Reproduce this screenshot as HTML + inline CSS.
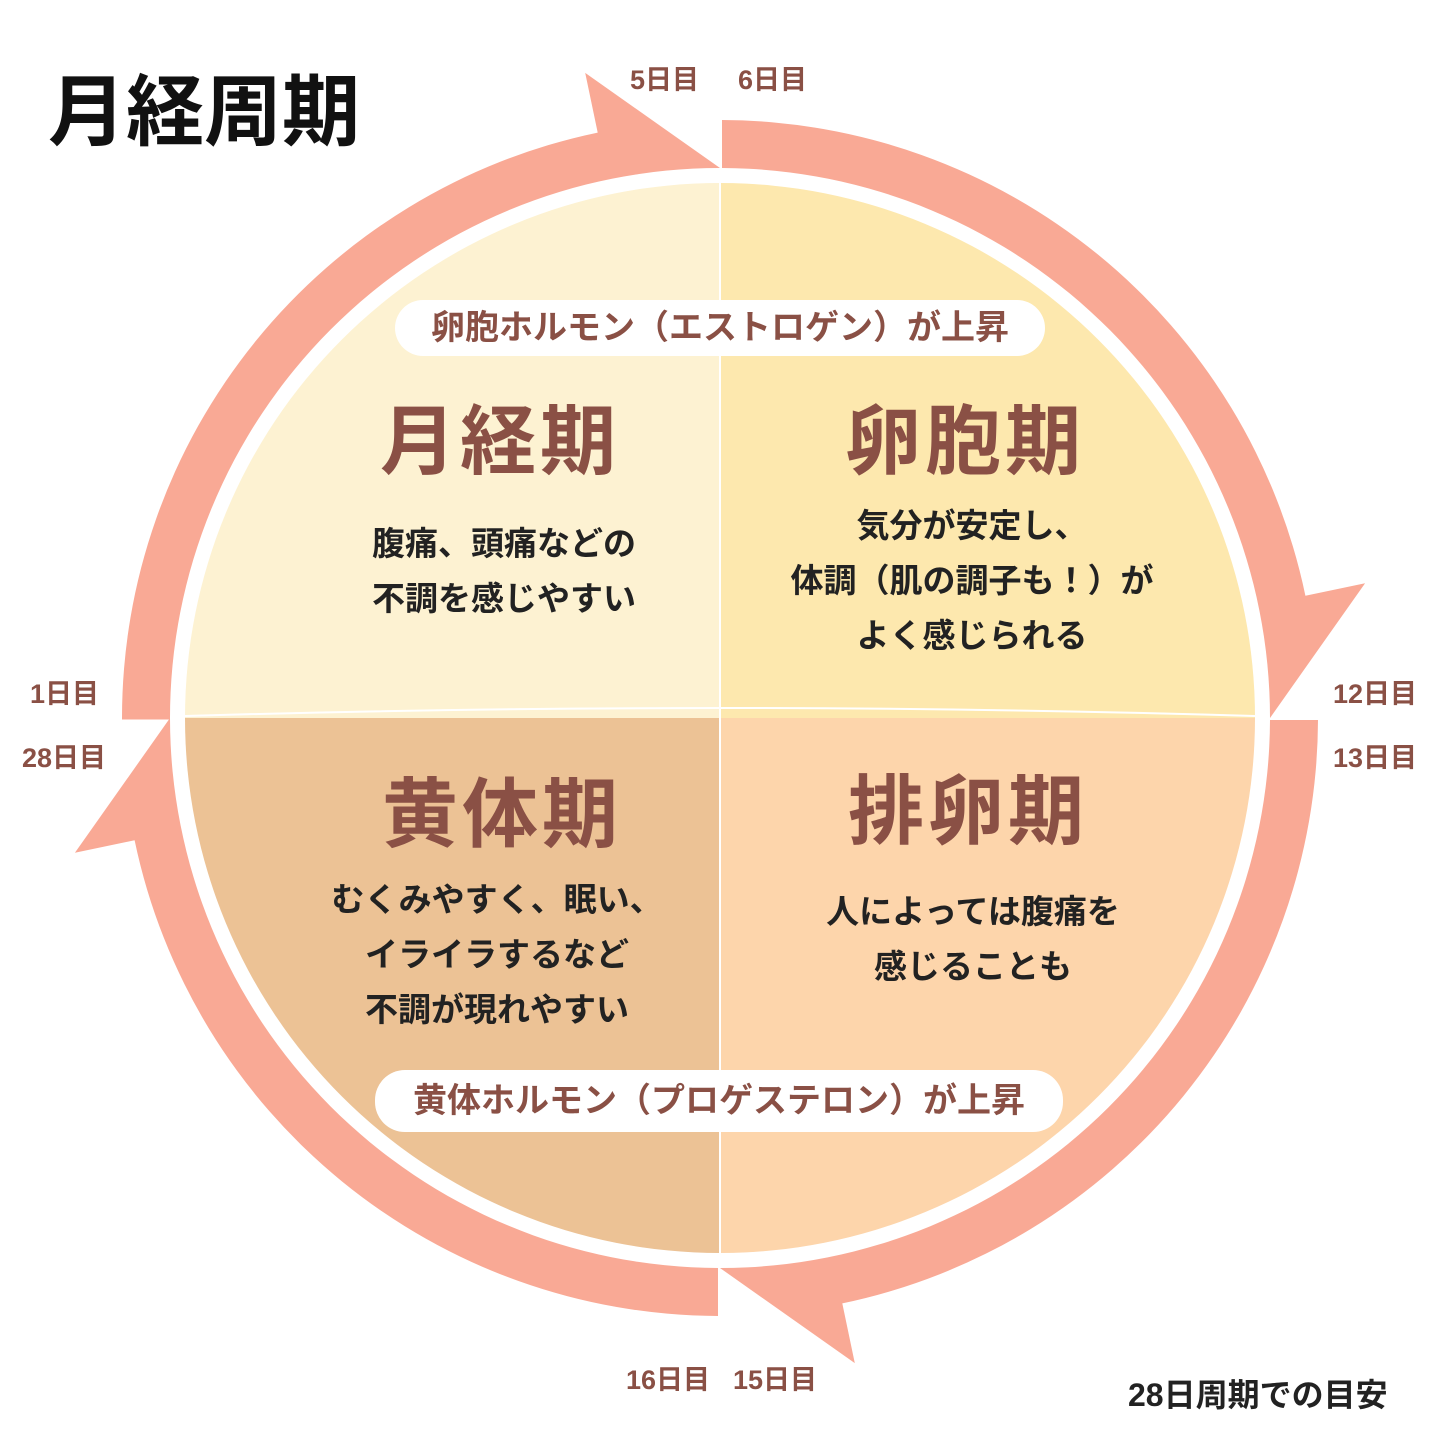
<!DOCTYPE html>
<html><head><meta charset="utf-8"><style>
body{margin:0;width:1440px;height:1440px;background:#fff;position:relative;overflow:hidden;font-family:"Liberation Sans","Noto Sans CJK JP",sans-serif}
.a{position:absolute;white-space:nowrap}
.title{left:48px;top:50px;font-size:78px;font-weight:bold;color:#111}
.d{font-size:27px;color:#8a5045;font-weight:bold}
.pill{background:#fff;border-radius:30px;color:#8a5045;font-size:34px;font-weight:bold;text-align:center}
.ph{font-size:76px;font-weight:bold;color:#8a5045;text-align:center;transform:translateX(-50%);letter-spacing:4px}
.b{font-size:33px;font-weight:bold;color:#222;text-align:center;transform:translateX(-50%);line-height:55px}
</style></head><body>
<svg width="1440" height="1440" style="position:absolute;left:0;top:0">
<g fill="#f9a995">
<path d="M122 719.5 A598 598 0 0 1 597.7 132.6 L585.2 72.9 L720 168 A550 550 0 0 0 170 719.5 Z"/>
<path d="M722 120 A598 598 0 0 1 1305.4 595.7 L1365.1 583.2 L1270 718 A550 550 0 0 0 722 168 Z"/>
<path d="M1318 720 A598 598 0 0 1 842.3 1303.4 L854.8 1363.1 L720 1268 A550 550 0 0 0 1270 720 Z"/>
<path d="M718 1316 A598 598 0 0 1 134.6 840.3 L74.9 852.8 L170 718 A550 550 0 0 0 718 1268 Z"/>
</g>
<path d="M720 718 L185 718 A535 535 0 0 1 720 183 Z" fill="#fdf2d2"/>
<path d="M720 718 L720 183 A535 535 0 0 1 1255 718 Z" fill="#fde8ae"/>
<path d="M720 718 L1255 718 A535 535 0 0 1 720 1253 Z" fill="#fdd5ab"/>
<path d="M720 718 L720 1253 A535 535 0 0 1 185 718 Z" fill="#ecc295"/>
<line x1="720" y1="183" x2="720" y2="1253" stroke="#fff" stroke-width="2"/>
<path d="M185 716 Q720 700 1255 716" stroke="#fff" stroke-width="2" fill="none"/>
</svg>
<div class="a title">月経周期</div>
<div class="a d" style="left:630px;top:58px">5日目</div>
<div class="a d" style="left:738px;top:58px">6日目</div>
<div class="a d" style="left:1333px;top:672px">12日目</div>
<div class="a d" style="left:1333px;top:736px">13日目</div>
<div class="a d" style="left:626px;top:1358px">16日目</div>
<div class="a d" style="left:733px;top:1358px">15日目</div>
<div class="a d" style="left:30px;top:672px">1日目</div>
<div class="a d" style="left:22px;top:736px">28日目</div>
<div class="a" style="left:1128px;top:1370px;font-size:32px;font-weight:bold;color:#222">28日周期での目安</div>
<div class="a pill" style="left:395px;top:300px;width:650px;height:56px;line-height:56px">卵胞ホルモン（エストロゲン）が上昇</div>
<div class="a pill" style="left:375px;top:1070px;width:688px;height:62px;line-height:62px">黄体ホルモン（プロゲステロン）が上昇</div>
<div class="a ph" style="left:500px;top:380px">月経期</div>
<div class="a ph" style="left:965px;top:380px">卵胞期</div>
<div class="a ph" style="left:502px;top:753px">黄体期</div>
<div class="a ph" style="left:968px;top:750px">排卵期</div>
<div class="a b" style="left:504px;top:516px">腹痛、頭痛などの<br>不調を感じやすい</div>
<div class="a b" style="left:972px;top:498px">気分が安定し、<br>体調（肌の調子も！）が<br>よく感じられる</div>
<div class="a b" style="left:497px;top:872px">むくみやすく、眠い、<br>イライラするなど<br>不調が現れやすい</div>
<div class="a b" style="left:973px;top:884px">人によっては腹痛を<br>感じることも</div>
</body></html>
